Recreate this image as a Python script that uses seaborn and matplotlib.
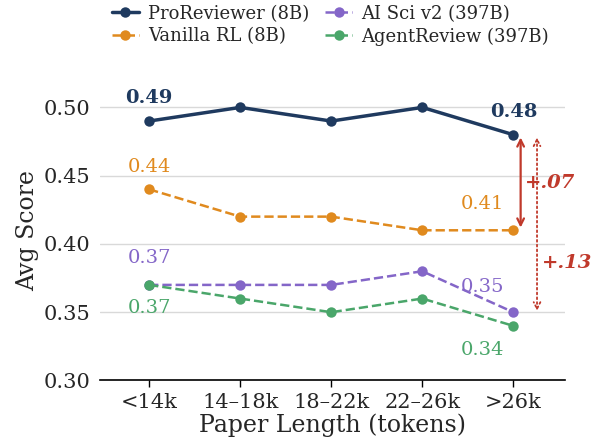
import matplotlib
matplotlib.use("Agg")
import matplotlib.pyplot as plt
import seaborn as sns
import pandas as pd

# data
bins = ["<14k", "14–18k", "18–22k", "22–26k", ">26k"]
proreviewer = [0.49, 0.50, 0.49, 0.50, 0.48]
vanilla_rl = [0.44, 0.42, 0.42, 0.41, 0.41]
ai_sci = [0.37, 0.37, 0.37, 0.38, 0.35]
agentreview = [0.37, 0.36, 0.35, 0.36, 0.34]

series = [
    ("ProReviewer (8B)", proreviewer, "#1f3a5f", "-", 2.5),
    ("Vanilla RL (8B)", vanilla_rl, "#e08a1e", "--", 1.8),
    ("AI Sci v2 (397B)", ai_sci, "#8466c8", "--", 1.8),
    ("AgentReview (397B)", agentreview, "#4aa66a", "--", 1.8),
]

sns.set_theme(style="whitegrid")
plt.rcParams["font.family"] = ["DejaVu Serif"]

fig, ax = plt.subplots(figsize=(5.95, 4.45), dpi=100)
fig.subplots_adjust(left=0.168, right=0.95, top=0.82, bottom=0.145)

x = list(range(len(bins)))
for name, vals, color, ls, lw in series:
    df = pd.DataFrame({"x": x, "y": vals})
    sns.lineplot(data=df, x="x", y="y", ax=ax, color=color, linestyle=ls,
                 linewidth=lw, marker="o", markersize=7.5, markeredgewidth=0,
                 label=name)

ax.set_ylim(0.30, 0.52)
ax.set_xlim(-0.54, 4.57)
ax.set_xticks(x)
ax.set_xticklabels(bins)
ax.set_yticks([0.30, 0.35, 0.40, 0.45, 0.50])
ax.set_yticklabels([f"{v:.2f}" for v in [0.30, 0.35, 0.40, 0.45, 0.50]])
ax.tick_params(axis="both", labelsize=15)
ax.tick_params(axis="x", length=5, width=1, color="black", bottom=True, pad=4)
ax.tick_params(axis="y", length=0, pad=7)
ax.set_xlabel("Paper Length (tokens)", fontsize=17, labelpad=1)
ax.set_ylabel("Avg Score", fontsize=17, labelpad=3)
ax.grid(axis="x", visible=False)
ax.grid(axis="y", color="#d9d9d9", linewidth=1)
ax.set_facecolor("white")
for s in ["top", "right", "left"]:
    ax.spines[s].set_visible(False)
ax.spines["bottom"].set_color("black")
ax.spines["bottom"].set_linewidth(1.2)

# value labels
nc, oc, pc, gc = "#1f3a5f", "#e08a1e", "#8466c8", "#4aa66a"
fs = 14
ax.text(0, proreviewer[0] + 0.010, f"{proreviewer[0]:.2f}", color=nc, fontsize=fs,
        fontweight="bold", ha="center", va="bottom")
ax.text(4, proreviewer[4] + 0.010, f"{proreviewer[4]:.2f}", color=nc, fontsize=fs,
        fontweight="bold", ha="center", va="bottom")
ax.text(0, vanilla_rl[0] + 0.010, f"{vanilla_rl[0]:.2f}", color=oc, fontsize=fs,
        ha="center", va="bottom")
ax.text(3.66, vanilla_rl[4] + 0.013, f"{vanilla_rl[4]:.2f}", color=oc, fontsize=fs,
        ha="center", va="bottom")
ax.text(0, ai_sci[0] + 0.013, f"{ai_sci[0]:.2f}", color=pc, fontsize=fs,
        ha="center", va="bottom")
ax.text(0, agentreview[0] - 0.010, f"{agentreview[0]:.2f}", color=gc, fontsize=fs,
        ha="center", va="top")
ax.text(3.66, ai_sci[4] + 0.012, f"{ai_sci[4]:.2f}", color=pc, fontsize=fs,
        ha="center", va="bottom")
ax.text(3.66, agentreview[4] - 0.011, f"{agentreview[4]:.2f}", color=gc, fontsize=fs,
        ha="center", va="top")

# gap annotations
red = "#c0392b"
ax.annotate("", xy=(4.08, vanilla_rl[4] + 0.002), xytext=(4.08, proreviewer[4] - 0.002),
            arrowprops=dict(arrowstyle="<->", color=red, lw=1.6, shrinkA=0, shrinkB=0))
ax.text(4.13, 0.445, "+.07", color=red, fontsize=fs, fontweight="bold",
        fontstyle="italic", ha="left", va="center")
ax.annotate("", xy=(4.26, ai_sci[4] + 0.001), xytext=(4.26, proreviewer[4] - 0.002),
            arrowprops=dict(arrowstyle="<->", color=red, lw=1.3, linestyle=":",
                            shrinkA=0, shrinkB=0))
ax.text(4.31, 0.386, "+.13", color=red, fontsize=fs, fontweight="bold",
        fontstyle="italic", ha="left", va="center")

handles, labels = ax.get_legend_handles_labels()
ax.legend(handles, labels, ncol=2, loc="lower left", bbox_to_anchor=(0.025, 1.115),
          frameon=False, fontsize=13, handlelength=1.5, handletextpad=0.5,
          columnspacing=0.9, labelspacing=0.25, borderaxespad=0, borderpad=0)

plt.savefig("out.png", dpi=100)
plt.close()
